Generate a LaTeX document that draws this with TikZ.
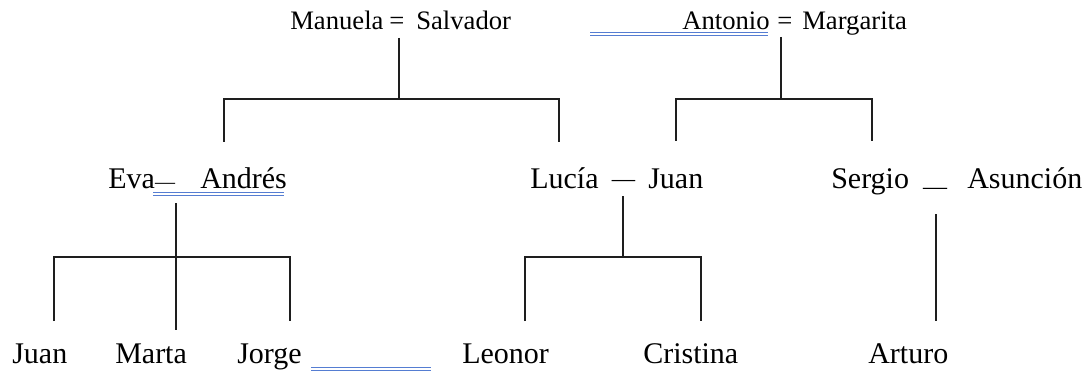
\documentclass[tikz,border=0pt]{standalone}
\usepackage{fontspec}
\setmainfont{Liberation Serif}
\definecolor{linkcol}{RGB}{30,30,30}
\definecolor{wordblue}{RGB}{85,125,210}
\begin{document}
\begin{tikzpicture}[x=0.75pt,y=-0.75pt,
  lbl/.style={inner sep=0pt, anchor=base west, font=\fontsize{22.5}{27}\selectfont},
  toplbl/.style={inner sep=0pt, anchor=base west, font=\fontsize{20}{24}\selectfont},
  eqlbl/.style={inner sep=0pt, anchor=base, font=\fontsize{20}{24}\selectfont},
  dashlbl/.style={inner sep=0pt, anchor=base},
  link/.style={line width=1.5pt, draw=linkcol},
  blueline/.style={line width=0.7pt, draw=wordblue}
]
\useasboundingbox (0,0) rectangle (1087,374);

% top row
\node[toplbl] (manuela) at (290,30) {Manuela};
\node[eqlbl] (eq1) at (397,30) {=};
\node[toplbl] (salvador) at (416,30) {Salvador};
\node[toplbl] (antonio) at (682,30) {Antonio};
\node[eqlbl] (eq2) at (785,30) {=};
\node[toplbl] (margarita) at (802,30) {Margarita};

% middle row
\node[lbl] (eva) at (108,188) {Eva};
\node[dashlbl, font=\fontsize{15}{18}\selectfont] (d1) at (165,188.5) {—};
\node[lbl] (andres) at (200,188) {Andrés};
\node[lbl] (lucia) at (530,188) {Lucía};
\node[dashlbl, font=\fontsize{17.5}{21}\selectfont] (d2) at (623.5,186) {—};
\node[lbl] (juan1) at (648,188) {Juan};
\node[lbl] (sergio) at (831,188) {Sergio};
\node[dashlbl, font=\fontsize{18}{21}\selectfont] (d3) at (935,194.5) {—};
\node[lbl] (asuncion) at (967,188) {Asunción};

% bottom row
\node[lbl] (juan2) at (12,363) {Juan};
\node[lbl] (marta) at (115,363) {Marta};
\node[lbl] (jorge) at (237,363) {Jorge};
\node[lbl] (leonor) at (462,363) {Leonor};
\node[lbl] (cristina) at (643,363) {Cristina};
\node[lbl] (arturo) at (868,363) {Arturo};

% junction coordinates
\coordinate (t1) at (399,38);  \coordinate (j1) at (399,99);
\coordinate (a1) at (224,142); \coordinate (a2) at (559,142);
\coordinate (t2) at (781,37);  \coordinate (j2) at (781,99);
\coordinate (b1) at (676,141); \coordinate (b2) at (872,141);
\coordinate (t3) at (176,203); \coordinate (j3) at (176,257); \coordinate (e3) at (176,330);
\coordinate (c1) at (54,321);  \coordinate (c2) at (290,321);
\coordinate (t4) at (623,196); \coordinate (j4) at (623,257);
\coordinate (d4a) at (525,321); \coordinate (d4b) at (701,321);
\coordinate (t5) at (936,214); \coordinate (e5) at (936,321);

% connectors
\draw[link] (t1) -- (j1);
\draw[link] (a1) |- (j1) -| (a2);
\draw[link] (t2) -- (j2);
\draw[link] (b1) |- (j2) -| (b2);
\draw[link] (t3) -- (e3);
\draw[link] (c1) |- (j3) -| (c2);
\draw[link] (t4) -- (j4);
\draw[link] (d4a) |- (j4) -| (d4b);
\draw[link] (t5) -- (e5);

% blue double underlines
\coordinate (u1a) at (590,32.5); \coordinate (u1b) at (768,32.5);
\draw[blueline] (u1a) -- (u1b);
\draw[blueline] ([yshift=-2.6pt]u1a) -- ([yshift=-2.6pt]u1b);
\coordinate (u2a) at (153,192.3); \coordinate (u2b) at (284,192.3);
\draw[blueline] (u2a) -- (u2b);
\draw[blueline] ([yshift=-2pt]u2a) -- ([yshift=-2pt]u2b);
\coordinate (u3a) at (311,367); \coordinate (u3b) at (431,367);
\draw[blueline] (u3a) -- (u3b);
\draw[blueline] ([yshift=-2.4pt]u3a) -- ([yshift=-2.4pt]u3b);
\end{tikzpicture}
\end{document}
